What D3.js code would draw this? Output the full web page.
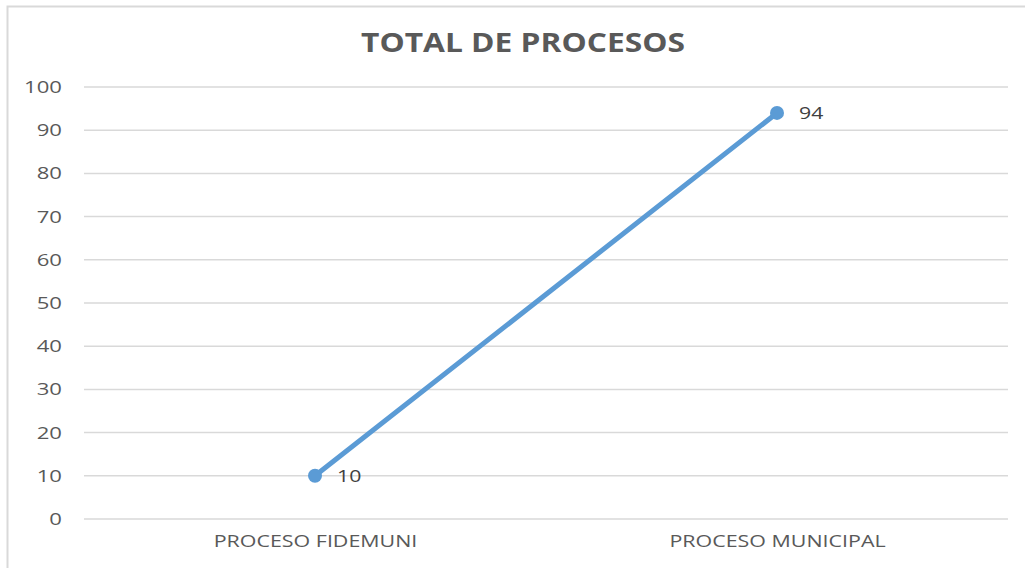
<!DOCTYPE html>
<html>
<head>
<meta charset="utf-8">
<script src="https://cdn.jsdelivr.net/npm/d3@7"></script>
<style>
  body { margin: 0; background: #fff; }
  svg { display: block; font-family: "Open Sans", "Liberation Sans", sans-serif; }
  .grid line { stroke: #d9d9d9; stroke-width: 1.5; }
  .yAxis text, .xAxis text { fill: #595959; }
</style>
</head>
<body>
<script>
//chart data
var categories = ["PROCESO FIDEMUNI", "PROCESO MUNICIPAL"];
var values = [10, 94];
var yTicks = [0, 10, 20, 30, 40, 50, 60, 70, 80, 90, 100];
var title = "TOTAL DE PROCESOS";

(function(){
    var width = 1025, height = 568;
    var left = 84, right = 1008, top = 87, bottom = 519;

    //the source picture is a bit stretched sideways, so widen the text
    function stretch(sel, k){
        sel.each(function(){
            var w = this.getComputedTextLength();
            d3.select(this)
                .attr("textLength", w * k)
                .attr("lengthAdjust", "spacingAndGlyphs");
        });
    }

    var svg = d3.select("body").append("svg")
        .attr("width", width)
        .attr("height", height);

    //chart frame
    svg.append("rect")
        .attr("x", 7.5).attr("y", 6.5)
        .attr("width", 1040).attr("height", 600)
        .attr("fill", "none")
        .attr("stroke", "#d9d9d9")
        .attr("stroke-width", 2);

    var x = d3.scalePoint()
        .domain(categories)
        .range([left, right])
        .padding(0.5);

    var y = d3.scaleLinear()
        .domain([0, 100])
        .range([bottom, top]);

    //gridlines
    svg.append("g").attr("class", "grid")
        .selectAll("line")
        .data(yTicks)
        .enter()
        .append("line")
        .attr("x1", left).attr("x2", right)
        .attr("y1", function(d){ return y(d); })
        .attr("y2", function(d){ return y(d); });

    //y axis labels
    var yAxis = d3.axisLeft(y).tickValues(yTicks).tickSize(0).tickPadding(22);
    svg.append("g").attr("class", "yAxis")
        .attr("transform", "translate(" + left + ",0)")
        .call(yAxis)
        .call(function(g){ g.select(".domain").remove(); })
        .selectAll("text")
        .style("font-size", "17px")
        .style("font-family", "'Open Sans', sans-serif")
        .call(stretch, 1.3);

    //x axis labels
    var xAxis = d3.axisBottom(x).tickSize(0).tickPadding(16);
    svg.append("g").attr("class", "xAxis")
        .attr("transform", "translate(0," + bottom + ")")
        .call(xAxis)
        .call(function(g){ g.select(".domain").remove(); })
        .selectAll("text")
        .style("font-size", "17px")
        .style("font-family", "'Open Sans', sans-serif")
        .call(stretch, 1.26);

    //line
    var line = d3.line()
        .x(function(d, i){ return x(categories[i]); })
        .y(function(d){ return y(d); });

    svg.append("path")
        .datum(values)
        .attr("fill", "none")
        .attr("stroke", "#5b9bd5")
        .attr("stroke-width", 5)
        .attr("stroke-linecap", "round")
        .attr("d", line);

    svg.selectAll(".dot")
        .data(values)
        .enter()
        .append("circle")
        .attr("class", "dot")
        .attr("cx", function(d, i){ return x(categories[i]); })
        .attr("cy", function(d){ return y(d); })
        .attr("r", 7)
        .attr("fill", "#5b9bd5");

    //data labels
    svg.selectAll(".lbl")
        .data(values)
        .enter()
        .append("text")
        .attr("class", "lbl")
        .attr("x", function(d, i){ return x(categories[i]) + 22; })
        .attr("y", function(d){ return y(d); })
        .attr("dy", "0.38em")
        .attr("fill", "#404040")
        .style("font-size", "17px")
        .text(function(d){ return d; })
        .call(stretch, 1.25);

    //title
    svg.append("text")
        .attr("x", 523)
        .attr("y", 52)
        .attr("text-anchor", "middle")
        .attr("fill", "#595959")
        .style("font-size", "26px")
        .style("font-weight", "bold")
        .text(title)
        .call(stretch, 1.22);
})();
</script>
</body>
</html>
